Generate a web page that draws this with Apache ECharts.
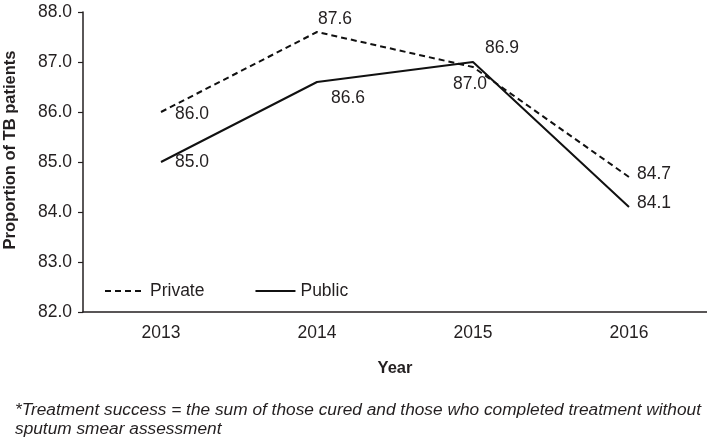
<!DOCTYPE html>
<html>
<head>
<meta charset="utf-8">
<script src="https://cdn.jsdelivr.net/npm/echarts@6/dist/echarts.min.js"></script>
<style>html,body{margin:0;padding:0;background:#fff}#c{width:707px;height:438px}</style>
</head>
<body>
<div id="c"></div>
<script>
const years = ['2013', '2014', '2015', '2016'];
const privateValues = [86.0, 87.6, 86.9, 84.7];
const publicValues = [85.0, 86.6, 87.0, 84.1];
const yTicks = { min: 82, max: 88, interval: 1 };
const yTitle = 'Proportion of TB patients';
const xTitle = 'Year';
const footnote = '*Treatment success = the sum of those cured and those who completed treatment without\nsputum smear assessment';

// label placement (offset of label centre from its point)
const privateLabelOffsets = [[31, 2], [18, -13], [29, -19], [25, -3]];
const publicLabelOffsets = [[31, 0], [31, 16], [-3, 22], [25, -4]];

const FONT = '"Liberation Sans", Arial, sans-serif';
const TXT = '#231f20';
const FS = 17.5;

function withLabels(values, offsets) {
  return values.map((v, i) => ({
    value: v,
    label: { offset: offsets[i] }
  }));
}

const labelBase = {
  show: true, position: 'inside', fontFamily: FONT, fontSize: FS, color: TXT,
  formatter: p => p.value.toFixed(1)
};

const chart = echarts.init(document.getElementById('c'), null, { renderer: 'canvas' });
chart.setOption({
  animation: false,
  backgroundColor: '#fff',
  textStyle: { fontFamily: FONT },
  title: {
    text: footnote, left: 15, top: 401, padding: 0,
    textStyle: { fontFamily: FONT, fontSize: 17.3, fontStyle: 'italic', fontWeight: 'normal', color: TXT, lineHeight: 19 }
  },
  grid: { left: 83, right: 0, top: 12, bottom: 126, containLabel: false, outerBoundsMode: 'none' },
  legend: {
    left: 99, top: 277, itemWidth: 40, itemHeight: 14, itemGap: 50,
    textStyle: { fontFamily: FONT, fontSize: FS, color: TXT },
    itemStyle: { color: 'rgba(0,0,0,0)', borderWidth: 0 },
    data: ['Private', 'Public']
  },
  xAxis: {
    type: 'category', data: years, boundaryGap: true,
    name: xTitle, nameLocation: 'middle', nameGap: 48,
    nameTextStyle: { fontFamily: FONT, fontSize: 16.5, fontWeight: 'bold', color: TXT },
    axisLine: { lineStyle: { color: '#231f20', width: 1.5 } },
    axisTick: { show: false },
    axisLabel: { fontFamily: FONT, fontSize: FS, color: TXT, margin: 12 },
    splitLine: { show: false }
  },
  yAxis: {
    type: 'value', min: yTicks.min, max: yTicks.max, interval: yTicks.interval,
    name: yTitle, nameLocation: 'middle', nameGap: 64, nameRotate: 90,
    nameTextStyle: { fontFamily: FONT, fontSize: 16.5, fontWeight: 'bold', color: TXT, padding: [0, 0, 0, 24] },
    axisLine: { show: true, lineStyle: { color: '#231f20', width: 1.5 } },
    axisTick: { show: true, length: 5, lineStyle: { color: '#231f20', width: 1.2 } },
    axisLabel: { fontFamily: FONT, fontSize: FS, color: TXT, margin: 11, formatter: v => v.toFixed(1) },
    splitLine: { show: false }
  },
  series: [
    {
      name: 'Private', type: 'line', data: withLabels(privateValues, privateLabelOffsets),
      symbol: 'circle', symbolSize: 0.1, showSymbol: true,
      itemStyle: { color: 'rgba(0,0,0,0)' },
      lineStyle: { color: '#111', width: 2, type: [6, 4] },
      label: labelBase, emphasis: { disabled: true }
    },
    {
      name: 'Public', type: 'line', data: withLabels(publicValues, publicLabelOffsets),
      symbol: 'circle', symbolSize: 0.1, showSymbol: true,
      itemStyle: { color: 'rgba(0,0,0,0)' },
      lineStyle: { color: '#111', width: 2, type: 'solid' },
      label: labelBase, emphasis: { disabled: true }
    }
  ]
});
</script>
</body>
</html>
